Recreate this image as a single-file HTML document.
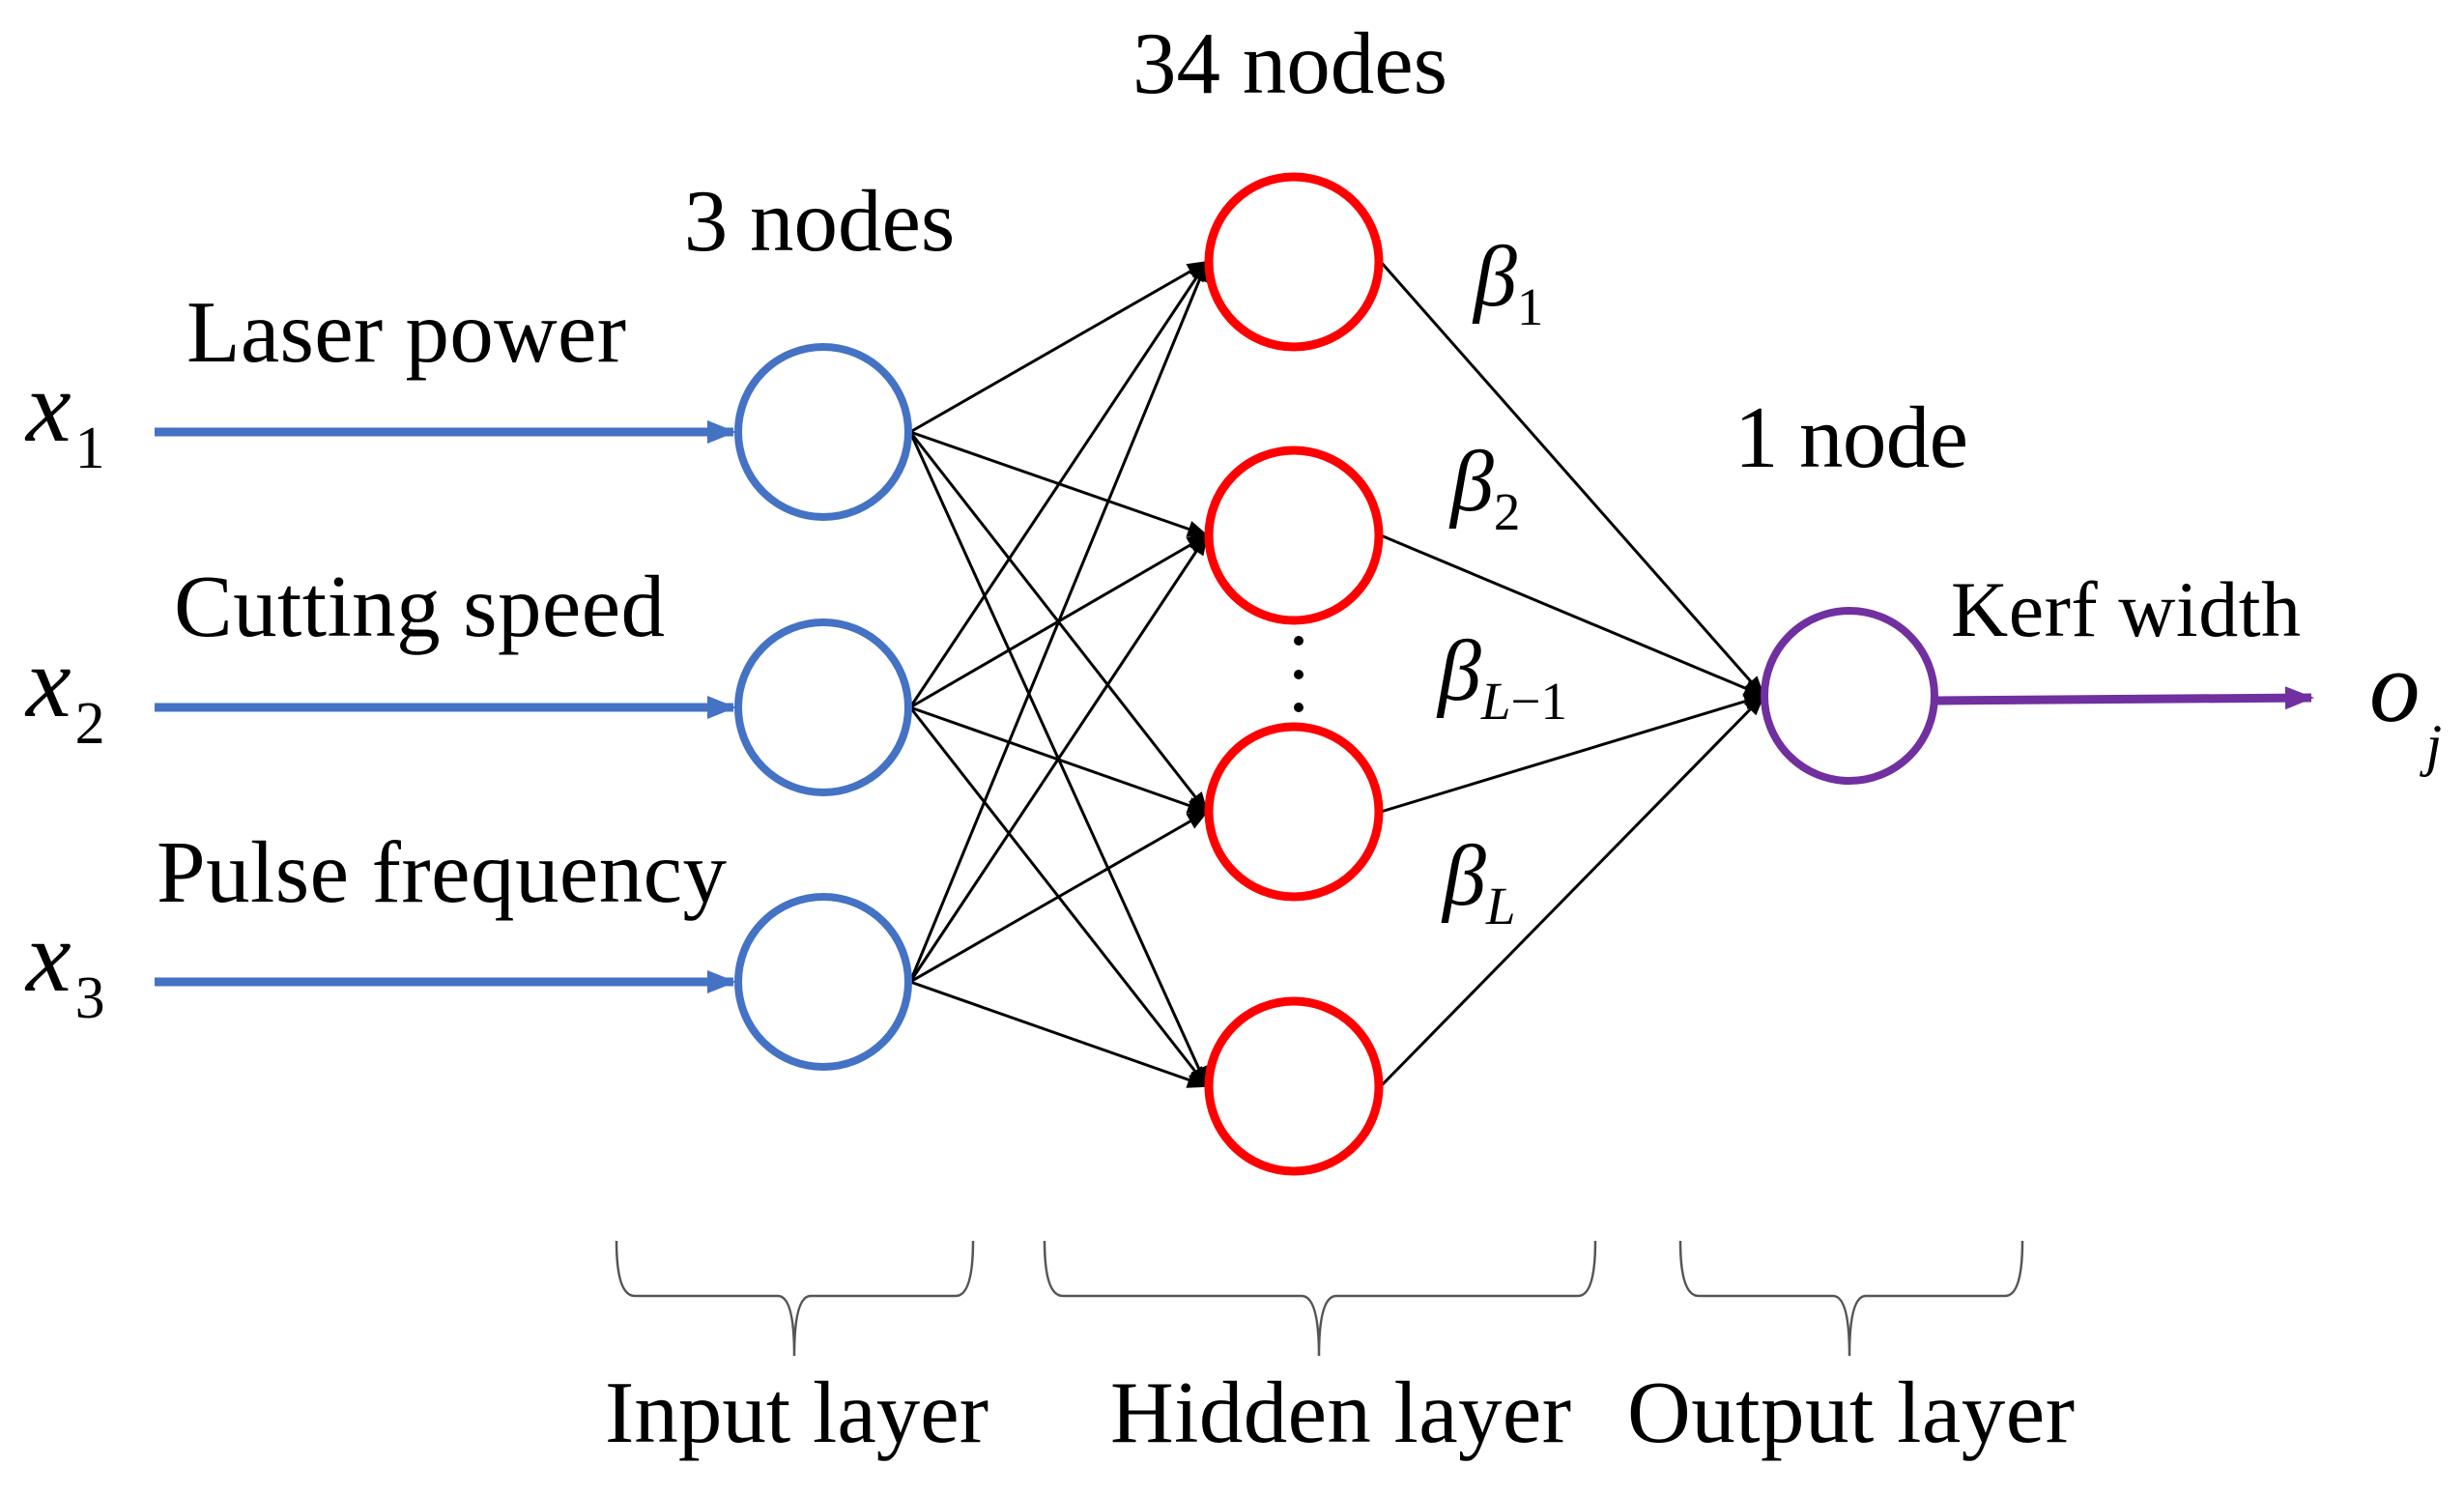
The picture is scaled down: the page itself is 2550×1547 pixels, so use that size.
<!DOCTYPE html>
<html><head><style>html,body{margin:0;padding:0;background:#fff}svg{display:block}</style></head>
<body>
<svg width="2550" height="1547" viewBox="0 0 2550 1547" xmlns="http://www.w3.org/2000/svg" font-family="'Liberation Serif', serif">
<defs>
<marker id="ak" viewBox="0 0 10 10" refX="9" refY="5" markerWidth="26" markerHeight="22" orient="auto" markerUnits="userSpaceOnUse"><path d="M0,1 L10,5 L0,9 z" fill="#000"/></marker>
<marker id="abl" viewBox="0 0 10 10" refX="9" refY="5" markerWidth="34" markerHeight="30" orient="auto" markerUnits="userSpaceOnUse"><path d="M0,1 L10,5 L0,9 z" fill="#4472C4"/></marker>
<marker id="apu" viewBox="0 0 10 10" refX="9" refY="5" markerWidth="34" markerHeight="30" orient="auto" markerUnits="userSpaceOnUse"><path d="M0,1 L10,5 L0,9 z" fill="#7030A0"/></marker>
</defs>
<g transform="translate(-3,1)">
<g stroke="#000" stroke-width="3" marker-end="url(#ak)">
<line x1="945" y1="446" x2="1252" y2="270"/><line x1="945" y1="446" x2="1252" y2="553"/><line x1="945" y1="446" x2="1252" y2="839"/><line x1="945" y1="446" x2="1252" y2="1123"/>
<line x1="945" y1="731" x2="1252" y2="270"/><line x1="945" y1="731" x2="1252" y2="553"/><line x1="945" y1="731" x2="1252" y2="839"/><line x1="945" y1="731" x2="1252" y2="1123"/>
<line x1="945" y1="1015" x2="1252" y2="270"/><line x1="945" y1="1015" x2="1252" y2="553"/><line x1="945" y1="1015" x2="1252" y2="839"/><line x1="945" y1="1015" x2="1252" y2="1123"/>
<line x1="1432" y1="270" x2="1828" y2="719"/><line x1="1432" y1="553" x2="1828" y2="719"/><line x1="1432" y1="839" x2="1828" y2="719"/><line x1="1432" y1="1123" x2="1828" y2="719"/>
</g>
<g stroke="#4472C4" stroke-width="9" marker-end="url(#abl)">
<line x1="163" y1="446" x2="762" y2="446"/><line x1="163" y1="731" x2="762" y2="731"/><line x1="163" y1="1015" x2="762" y2="1015"/>
</g>
<line x1="2007" y1="724" x2="2395" y2="721" stroke="#7030A0" stroke-width="9" marker-end="url(#apu)"/>
<g fill="#fff" stroke="#4472C4" stroke-width="8">
<circle cx="855" cy="446" r="88"/><circle cx="855" cy="731" r="88"/><circle cx="855" cy="1015" r="88"/>
</g>
<g fill="#fff" stroke="#FF0000" stroke-width="9">
<circle cx="1342" cy="270" r="88"/><circle cx="1342" cy="553" r="88"/><circle cx="1342" cy="839" r="88"/><circle cx="1342" cy="1123" r="88"/>
</g>
<circle cx="1917" cy="719" r="88" fill="#fff" stroke="#7030A0" stroke-width="8"/>
<g fill="#000"><circle cx="1347" cy="662" r="5"/><circle cx="1347" cy="697" r="5"/><circle cx="1347" cy="731" r="5"/></g>
<g fill="#000" font-size="91">
<text x="1338" y="95" text-anchor="middle">34 nodes</text>
<text x="851" y="258" text-anchor="middle">3 nodes</text>
<text x="196" y="373" textLength="455">Laser power</text>
<text x="183" y="657" textLength="508">Cutting speed</text>
<text x="165" y="932" textLength="590">Pulse frequency</text>
<text x="1798" y="482" textLength="242">1 node</text>
<text x="2022" y="657" font-size="82" textLength="362">Kerf width</text>
<text x="629" y="1491" textLength="397">Input layer</text>
<text x="1152" y="1491" textLength="477">Hidden layer</text>
<text x="1687" y="1491" textLength="463">Output layer</text>
</g>
<g fill="#000" font-style="italic">
<text x="30" y="455" font-size="105">x<tspan font-style="normal" font-size="62" dx="4" dy="28">1</tspan></text>
<text x="30" y="740" font-size="105">x<tspan font-style="normal" font-size="62" dx="4" dy="28">2</tspan></text>
<text x="30" y="1024" font-size="105">x<tspan font-style="normal" font-size="62" dx="4" dy="28">3</tspan></text>
<text x="1528" y="315" font-size="90">β<tspan font-style="normal" font-size="55" dy="20">1</tspan></text>
<text x="1504" y="527" font-size="90">β<tspan font-style="normal" font-size="55" dy="20">2</tspan></text>
<text x="1491" y="723" font-size="90">β<tspan font-size="55" dy="20">L</tspan><tspan font-style="normal" font-size="55">−1</tspan></text>
<text x="1496" y="935" font-size="90">β<tspan font-size="55" dy="20">L</tspan></text>
<text x="2455" y="745" font-size="105">o<tspan font-size="60" dx="6" dy="45">j</tspan></text>
</g>
<g fill="none" stroke="#555" stroke-width="2.5">
<path d="M641,1283 Q641,1340 660,1340 L808,1340 Q825,1340 825,1402 Q825,1340 842,1340 L992,1340 Q1010,1340 1010,1283"/>
<path d="M1084,1283 Q1084,1340 1103,1340 L1350,1340 Q1368,1340 1368,1402 Q1368,1340 1386,1340 L1636,1340 Q1654,1340 1654,1283"/>
<path d="M1742,1283 Q1742,1340 1761,1340 L1900,1340 Q1917,1340 1917,1402 Q1917,1340 1934,1340 L2078,1340 Q2096,1340 2096,1283"/>
</g>
</g>
</svg>
</body></html>
